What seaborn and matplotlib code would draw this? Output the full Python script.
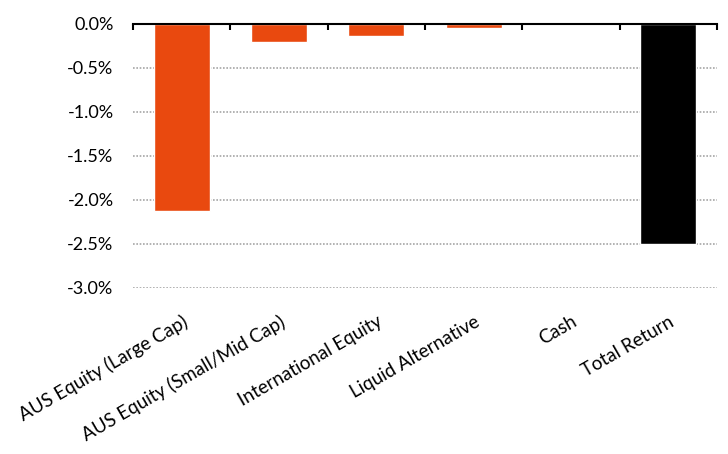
import matplotlib
matplotlib.use("Agg")
import matplotlib.pyplot as plt
import seaborn as sns
import pandas as pd
from matplotlib.ticker import FuncFormatter, MultipleLocator

categories = ["AUS Equity (Large Cap)", "AUS Equity (Small/Mid Cap)", "International Equity",
              "Liquid Alternative", "Cash", "Total Return"]
values = [-2.12, -0.20, -0.14, -0.04, 0.0, -2.50]
colors = ["#E9490F", "#E9490F", "#E9490F", "#E9490F", "#E9490F", "#000000"]

sns.set_theme(style="white")
plt.rcParams['font.family'] = ['Lato', 'DejaVu Sans']

df = pd.DataFrame({"cat": categories, "val": values})
fig = plt.figure(figsize=(7.28, 4.54), dpi=100)
ax = fig.add_axes([133/728, 1-288/454, (717-133)/728, (288-24)/454])

sns.barplot(data=df, x="cat", y="val", hue="cat", palette=colors, legend=False,
            width=0.575, ax=ax, saturation=1)

ax.set_ylim(-3.0, 0.0)
ax.set_xlim(-0.5, len(categories)-0.5)
ax.yaxis.set_major_locator(MultipleLocator(0.5))
ax.yaxis.set_major_formatter(FuncFormatter(lambda v, p: f"{v:.1f}%"))
for y in [-0.5, -1.0, -1.5, -2.0, -2.5, -3.0]:
    ax.axhline(y, color="#A6A6A6", linestyle=(0, (1, 1)), linewidth=1.2, zorder=0)

for s in ["left", "right", "bottom"]:
    ax.spines[s].set_visible(False)
ax.spines["top"].set_visible(True)
ax.spines["top"].set_color("black")
ax.spines["top"].set_linewidth(1.5)

ax.set_xticks([i - 0.5 for i in range(len(categories)+1)], minor=True)
ax.tick_params(axis="x", which="minor", top=True, bottom=False, direction="in",
               length=4.5, width=1.5, color="black")
ax.tick_params(axis="x", which="major", length=0, pad=18, labelsize=13.5)
ax.tick_params(axis="y", length=0, pad=14, labelsize=13)
ax.set_xticks(range(len(categories)))
ax.set_xticklabels(categories, rotation=30, ha="right", rotation_mode="anchor")
ax.set_xlabel("")
ax.set_ylabel("")
for lbl in ax.get_xticklabels() + ax.get_yticklabels():
    lbl.set_color("#000000")

fig.savefig("out.png", dpi=100)
